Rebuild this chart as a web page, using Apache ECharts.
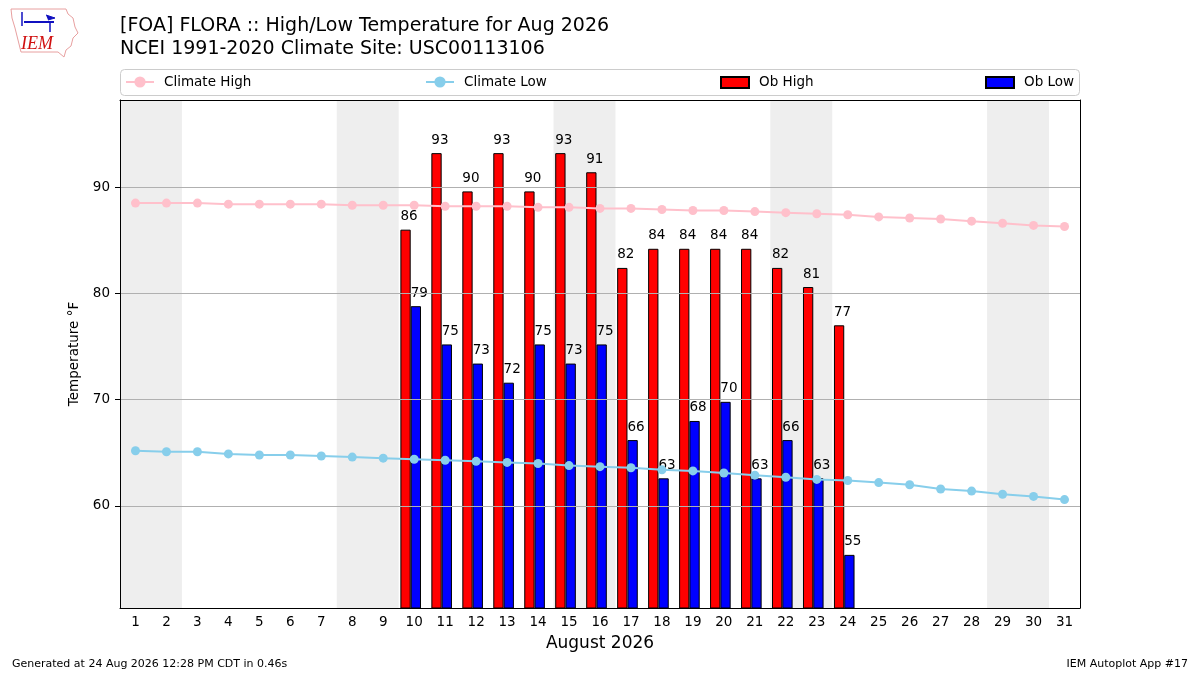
<!DOCTYPE html>
<html>
<head>
<meta charset="utf-8">
<title>[FOA] FLORA :: High/Low Temperature for Aug 2026</title>
<script src="https://cdn.jsdelivr.net/npm/echarts@6/dist/echarts.min.js"></script>
<style>
  html, body { margin: 0; padding: 0; background: #fff; }
  #grafico { width: 1200px; height: 675px; }
</style>
</head>
<body>
<div id="grafico"></div>
<script>
// dados do gráfico
const DIAS = [1, 2, 3, 4, 5, 6, 7, 8, 9, 10, 11, 12, 13, 14, 15, 16,
  17, 18, 19, 20, 21, 22, 23, 24, 25, 26, 27, 28, 29, 30, 31];

const CLIMA_MAX = [88.5, 88.5, 88.5, 88.4, 88.4, 88.4, 88.4, 88.3, 88.3, 88.3, 88.2,
  88.2, 88.2, 88.1, 88.1, 88.0, 88.0, 87.9, 87.8, 87.8, 87.7, 87.6, 87.5, 87.4,
  87.2, 87.1, 87.0, 86.8, 86.6, 86.4, 86.3];

const CLIMA_MIN = [65.2, 65.1, 65.1, 64.9, 64.8, 64.8, 64.7, 64.6, 64.5, 64.4, 64.3,
  64.2, 64.1, 64.0, 63.8, 63.7, 63.6, 63.4, 63.3, 63.1, 62.9, 62.7, 62.5, 62.4,
  62.2, 62.0, 61.6, 61.4, 61.1, 60.9, 60.6];

// observado (null = sem dado)
const OBS_MAX = [null, null, null, null, null, null, null, null, null,
  86.0, 93.2, 89.6, 93.2, 89.6, 93.2, 91.4, 82.4, 84.2, 84.2, 84.2, 84.2, 82.4, 80.6, 77.0,
  null, null, null, null, null, null, null];

const OBS_MIN = [null, null, null, null, null, null, null, null, null,
  78.8, 75.2, 73.4, 71.6, 75.2, 73.4, 75.2, 66.2, 62.6, 68.0, 69.8, 62.6, 66.2, 62.6, 55.4,
  null, null, null, null, null, null, null];

// fins de semana (dia inicial, dia final)
const FIM_DE_SEMANA = [[1, 2], [8, 9], [15, 16], [22, 23], [29, 30]];

const Y_TICKS = [60, 70, 80, 90];
const Y_MIN = 50.4;
const Y_MAX = 98.2;

const FONTE = 'DejaVu Sans';

const chart = echarts.init(document.getElementById('grafico'), null, { renderer: 'canvas' });

const rotuloBarra = {
  show: true,
  position: [0, -6],
  align: 'left',
  verticalAlign: 'bottom',
  color: '#000',
  fontFamily: FONTE,
  fontSize: 13.5,
  formatter: p => (p.value == null ? '' : String(Math.round(p.value)))
};

const eixoBase = {
  min: Y_MIN,
  max: Y_MAX,
  type: 'value',
  z: 10
};

chart.setOption({
  animation: false,
  backgroundColor: '#fff',
  textStyle: { fontFamily: FONTE },
  title: {
    text: '[FOA] FLORA :: High/Low Temperature for Aug 2026\nNCEI 1991-2020 Climate Site: USC00113106',
    left: 120,
    top: 15,
    padding: 0,
    textStyle: { fontFamily: FONTE, fontSize: 19, fontWeight: 'normal', color: '#000', lineHeight: 23 }
  },
  legend: [
    { data: ['Climate High'], left: 125, top: 75, itemHeight: 14 },
    { data: ['Climate Low'], left: 425, top: 75, itemHeight: 14 },
    { data: ['Ob High'], left: 720, top: 75.5, itemHeight: 11, icon: 'rect' },
    { data: ['Ob Low'], left: 985, top: 75.5, itemHeight: 11, icon: 'rect' }
  ].map(l => Object.assign({
    padding: 0,
    itemWidth: 28,
    itemGap: 0,
    selectedMode: false,
    textStyle: { fontFamily: FONTE, fontSize: 13.5, color: '#000', padding: [0, 0, 0, 5] }
  }, l)),
  grid: { left: 120, right: 120, top: 100, bottom: 67 },
  xAxis: [
    {
      type: 'category',
      data: DIAS,
      position: 'bottom',
      z: 10,
      name: 'August 2026',
      nameLocation: 'middle',
      nameGap: 27,
      nameTextStyle: { fontFamily: FONTE, fontSize: 17, color: '#000' },
      axisLine: { lineStyle: { color: '#000', width: 1 } },
      axisTick: { alignWithLabel: true, length: 5, lineStyle: { color: '#000' } },
      axisLabel: { color: '#000', fontFamily: FONTE, fontSize: 13.5, margin: 7, interval: 0 },
      splitLine: { show: false }
    },
    {
      // eixo auxiliar para o sombreamento dos fins de semana
      type: 'value',
      min: 0.5,
      max: 31.5,
      position: 'top',
      z: 10,
      axisLine: { show: true, onZero: false, lineStyle: { color: '#000', width: 1 } },
      axisTick: { show: false },
      axisLabel: { show: false },
      splitLine: { show: false }
    }
  ],
  yAxis: [
    Object.assign({}, eixoBase, {
      position: 'left',
      name: 'Temperature °F',
      nameLocation: 'middle',
      nameGap: 29,
      nameTextStyle: { fontFamily: FONTE, fontSize: 13.5, color: '#000' },
      axisLine: { show: true, onZero: false, lineStyle: { color: '#000', width: 1 } },
      axisTick: { show: true, length: 5, customValues: Y_TICKS, lineStyle: { color: '#000' } },
      axisLabel: { color: '#000', fontFamily: FONTE, fontSize: 13.5, margin: 10, customValues: Y_TICKS },
      splitLine: { show: false }
    }),
    Object.assign({}, eixoBase, {
      position: 'right',
      axisLine: { show: true, onZero: false, lineStyle: { color: '#000', width: 1 } },
      axisTick: { show: false },
      axisLabel: { show: false },
      splitLine: { show: false }
    })
  ],
  graphic: [
    // moldura da legenda
    { type: 'rect', z: -1, shape: { x: 120.5, y: 69.5, width: 959, height: 26, r: 4 },
      style: { fill: '#fff', stroke: '#cccccc', lineWidth: 1 } },
    // logo IEM (aproximado)
    { type: 'polyline', shape: { points: [[11, 9], [66, 9], [68, 14], [73, 18], [75, 27], [78, 33], [73, 38], [71, 46], [66, 50], [64, 57], [58, 52], [21, 52], [18, 40], [15, 28], [12, 18], [11, 9]] },
      style: { stroke: '#e8a0a0', fill: 'none', lineWidth: 1 } },
    { type: 'polyline', shape: { points: [[24, 22], [54, 22]] }, style: { stroke: '#1010c0', lineWidth: 2 } },
    { type: 'polyline', shape: { points: [[22, 12], [22, 26]] }, style: { stroke: '#1010c0', lineWidth: 1.5 } },
    { type: 'polyline', shape: { points: [[46, 15], [55, 18], [48, 20]] }, style: { stroke: '#1010c0', fill: '#1010c0', lineWidth: 1 } },
    { type: 'polyline', shape: { points: [[50, 22], [50, 32]] }, style: { stroke: '#1010c0', lineWidth: 1.5 } },
    { type: 'text', left: 21, top: 35, style: { text: 'IEM', fill: '#d01010', font: 'italic 18px "Liberation Serif", serif' } },
    // rodapé
    { type: 'text', left: 12, top: 659, style: { text: 'Generated at 24 Aug 2026 12:28 PM CDT in 0.46s', fill: '#000', font: '11px "DejaVu Sans"' } },
    { type: 'text', right: 12, top: 659, style: { text: 'IEM Autoplot App #17', fill: '#000', font: '11px "DejaVu Sans"' } }
  ],
  series: [
    {
      // sombreamento dos fins de semana
      type: 'line',
      xAxisIndex: 1,
      yAxisIndex: 0,
      data: [],
      z: 0,
      silent: true,
      markArea: {
        silent: true,
        itemStyle: { color: '#eeeeee' },
        data: FIM_DE_SEMANA.map(([a, b]) => [{ xAxis: a - 0.5 }, { xAxis: b + 0.5 }])
      }
    },
    {
      // linhas de grade
      type: 'line',
      data: [],
      z: 1,
      silent: true,
      markLine: {
        silent: true,
        symbol: 'none',
        label: { show: false },
        lineStyle: { color: '#b0b0b0', type: 'solid', width: 1 },
        data: Y_TICKS.map(v => ({ yAxis: v }))
      }
    },
    {
      name: 'Ob High',
      type: 'bar',
      data: OBS_MAX,
      barWidth: 10.3,
      barGap: '0%',
      z: 2,
      itemStyle: { color: '#ff0000', borderColor: '#000', borderWidth: 1 },
      label: rotuloBarra
    },
    {
      name: 'Ob Low',
      type: 'bar',
      data: OBS_MIN,
      barWidth: 10.3,
      barGap: '0%',
      z: 2,
      itemStyle: { color: '#0000ff', borderColor: '#000', borderWidth: 1 },
      label: rotuloBarra
    },
    {
      // espaço vazio à direita das barras (as barras ficam deslocadas p/ esquerda)
      type: 'bar',
      data: [],
      barWidth: 7,
      barGap: '0%',
      silent: true
    },
    {
      name: 'Climate High',
      type: 'line',
      data: CLIMA_MAX,
      z: 3,
      symbol: 'circle',
      symbolSize: 9,
      color: '#ffc0cb',
      lineStyle: { color: '#ffc0cb', width: 2 },
      itemStyle: { color: '#ffc0cb' }
    },
    {
      name: 'Climate Low',
      type: 'line',
      data: CLIMA_MIN,
      z: 3,
      symbol: 'circle',
      symbolSize: 9,
      color: '#87ceeb',
      lineStyle: { color: '#87ceeb', width: 2 },
      itemStyle: { color: '#87ceeb' }
    }
  ]
});
</script>
</body>
</html>
